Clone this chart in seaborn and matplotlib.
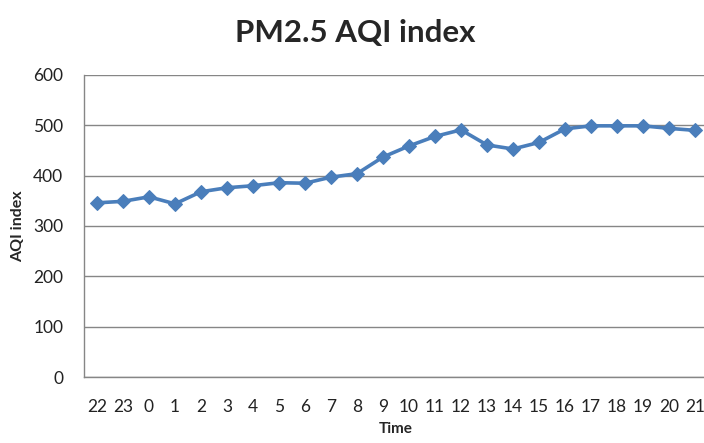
import numpy as np
import pandas as pd
import matplotlib
matplotlib.use("Agg")
import matplotlib.pyplot as plt
import seaborn as sns

# hours shown on the x axis (starts at 22:00 of the previous day)
hours = ["22", "23", "0", "1", "2", "3", "4", "5", "6", "7", "8", "9",
         "10", "11", "12", "13", "14", "15", "16", "17", "18", "19", "20", "21"]
# PM2.5 AQI readings
aqi = [346, 349, 358, 344, 368, 376, 380, 386, 385, 397, 404, 437,
       459, 478, 491, 461, 453, 466, 493, 499, 499, 499, 494, 490]
y_ticks = [0, 100, 200, 300, 400, 500, 600]

sns.set_style("white")
plt.rcParams["font.family"] = ["Lato", "DejaVu Sans"]

df = pd.DataFrame({"pos": np.arange(len(hours)), "hour": hours, "aqi": aqi})

GRID = "#868686"
BLUE = "#4A7EBB"

fig = plt.figure(figsize=(7.04, 4.43), dpi=100)
ax = fig.add_axes([84 / 704, 66 / 443, 624 / 704, 302 / 443])

sns.lineplot(data=df, x="pos", y="aqi", ax=ax, color=BLUE, linewidth=2.6,
             marker="D", markersize=7.5, markeredgecolor=BLUE)

ax.set_xlim(-0.5, len(hours) - 0.5)
ax.set_ylim(0, 600)
ax.set_yticks(y_ticks)
ax.set_xticks(df["pos"])
ax.set_xticklabels(hours)
ax.yaxis.grid(True, color=GRID, linewidth=1)
ax.set_axisbelow(True)

for s in ["top", "right"]:
    ax.spines[s].set_visible(False)
for s in ["left", "bottom"]:
    ax.spines[s].set_color(GRID)
    ax.spines[s].set_linewidth(1)

ax.tick_params(axis="y", length=0, pad=15, labelsize=12.5, labelcolor="#222222")
ax.tick_params(axis="x", length=0, pad=16, labelsize=12.5, labelcolor="#222222")

ax.set_xlabel("Time", fontsize=11, fontweight="bold", labelpad=5)
ax.set_ylabel("AQI index", fontsize=11.5, fontweight="bold", labelpad=6)

fig.text(0.505, 0.926, "PM2.5 AQI index", ha="center", va="center",
         fontsize=22.5, fontweight="bold")

fig.savefig("out.png", dpi=100)
